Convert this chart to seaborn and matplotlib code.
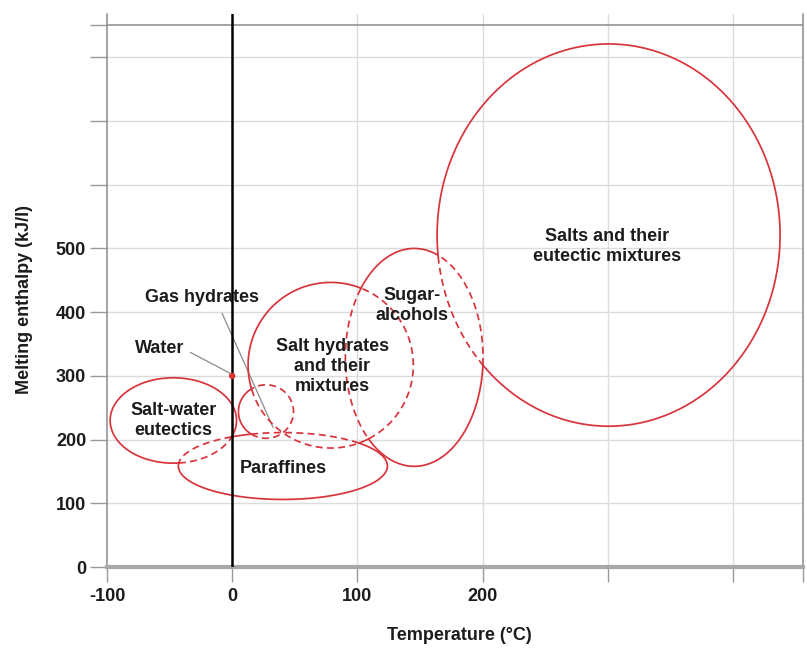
import numpy as np
import pandas as pd
import matplotlib
matplotlib.use("Agg")
import matplotlib.pyplot as plt
import seaborn as sns

# Material classes: typical melting temperature / melting enthalpy ranges (ellipses)
classes = ["Salt-water eutectics", "Gas hydrates", "Paraffines",
           "Salt hydrates", "Sugar-alcohols", "Salts"]
temp_center = [-47, 27, 40.5, 78.7, 145.4, 300.7]
temp_width = [101, 44, 167, 132, 110, 274]
enth_center = [230, 244, 158.5, 316.7, 329, 521]
enth_height = [134, 84, 105, 260, 342, 600]

# Region labels
label_texts = ["Salts and their\neutectic mixtures", "Sugar-\nalcohols",
               "Salt hydrates\nand their\nmixtures", "Gas hydrates", "Water",
               "Salt-water\neutectics", "Paraffines"]
label_x = [299.5, 143.8, 80, -24, -58, -47, 40.7]
label_y = [503, 411, 315, 423, 343, 230, 155]

# Water as a single point with a leader line
water_temp = [0]
water_enth = [300]
water_leader_x = [-33.5, -1.6]
water_leader_y = [337, 304]
gas_leader_x = [-8, 32.7]
gas_leader_y = [398, 219]

x_ticks = [-100, 0, 100, 200, 300, 400, 456]
x_tick_labels = ["-100", "0", "100", "200", "", "", ""]
y_ticks = [0, 100, 200, 300, 400, 500, 600, 700, 800, 850]
y_tick_labels = ["0", "100", "200", "300", "400", "500", "", "", "", ""]

RED = "#d8343c"
TEXT = "#1c1c1c"

sns.set_style("white")
plt.rcParams["font.family"] = ["Liberation Sans", "DejaVu Sans"]
plt.rcParams["font.weight"] = "bold"

fig = plt.figure(figsize=(8.07, 6.51), dpi=100)
ax = fig.add_axes([107 / 807, 1 - 567 / 651, 696 / 807, 553 / 651])
ax.set_xlim(-100, 456)
ax.set_ylim(0, 868)

# grid
for gx in [100, 200, 300, 400]:
    ax.axvline(gx, color="#dcdcdc", lw=1.0, zorder=0)
for gy in [100, 200, 300, 400, 500, 600, 700, 800]:
    ax.axhline(gy, color="#dcdcdc", lw=1.0, zorder=0)
ax.axhline(850, color="#8a8a8a", lw=1.1, zorder=1)
ax.axvline(0, color="black", lw=1.8, zorder=4)

# ellipse outlines: solid where outside every other region, dashed where overlapped
n = 720
t = np.linspace(0, 2 * np.pi, n, endpoint=False)
df = pd.DataFrame({"name": classes, "cx": temp_center, "cy": enth_center,
                   "w": temp_width, "h": enth_height})


def inside_other(i, xs, ys):
    flag = np.zeros_like(xs, dtype=bool)
    for j, r in df.iterrows():
        if j == i:
            continue
        flag |= ((xs - r.cx) / (r.w / 2)) ** 2 + ((ys - r.cy) / (r.h / 2)) ** 2 < 1
    return flag


for i, r in df.iterrows():
    xs = r.cx + r.w / 2 * np.cos(t)
    ys = r.cy + r.h / 2 * np.sin(t)
    flag = inside_other(i, xs, ys)
    if flag.all() or (~flag).all():
        runs = [(np.append(xs, xs[0]), np.append(ys, ys[0]), flag[0])]
    else:
        k = int(np.argmax(flag != np.roll(flag, 1)))
        xs, ys, flag = np.roll(xs, -k), np.roll(ys, -k), np.roll(flag, -k)
        cuts = np.flatnonzero(np.diff(flag.astype(int))) + 1
        starts = np.concatenate([[0], cuts])
        ends = np.concatenate([cuts, [n]])
        runs = []
        for s, e in zip(starts, ends):
            idx = list(range(s, e)) + [e % n]
            runs.append((xs[idx], ys[idx], flag[s]))
    for sx, sy, dashed in runs:
        sns.lineplot(x=sx, y=sy, sort=False, estimator=None, ax=ax, color=RED,
                     lw=1.25, zorder=3,
                     linestyle=(0, (4, 2.5)) if dashed else "-")

# leader lines and the water point
ax.plot(water_leader_x, water_leader_y, color="#8c8c8c", lw=0.9, zorder=2)
ax.plot(gas_leader_x, gas_leader_y, color="#8c8c8c", lw=0.9, zorder=2)
sns.scatterplot(x=water_temp, y=water_enth, color=RED, s=22, edgecolor="none",
                ax=ax, zorder=5)

for txt, lx, ly in zip(label_texts, label_x, label_y):
    ax.text(lx, ly, txt, ha="center", va="center", fontsize=13,
            fontweight="bold", color=TEXT, linespacing=1.25, zorder=6)

# axes styling
ax.set_xticks(x_ticks)
ax.set_xticklabels(x_tick_labels)
ax.set_yticks(y_ticks)
ax.set_yticklabels(y_tick_labels)
ax.tick_params(axis="x", direction="out", length=11, width=1.0, color="#9a9a9a",
               pad=4, labelsize=13, labelcolor=TEXT, bottom=True)
ax.tick_params(axis="y", direction="out", length=12, width=1.0, color="#9a9a9a",
               pad=3, labelsize=13, labelcolor=TEXT, left=True)
for lab in ax.get_xticklabels() + ax.get_yticklabels():
    lab.set_fontweight("bold")

ax.spines["top"].set_visible(False)
ax.spines["left"].set_color("#8a8a8a")
ax.spines["left"].set_linewidth(1.1)
ax.spines["right"].set_color("#8a8a8a")
ax.spines["right"].set_linewidth(1.1)
ax.spines["bottom"].set_color("#a8a8a8")
ax.spines["bottom"].set_linewidth(3.0)

ax.set_xlabel("Temperature (°C)", fontsize=13, fontweight="bold", color=TEXT)
ax.set_ylabel("Melting enthalpy (kJ/l)", fontsize=13, fontweight="bold", color=TEXT)
ax.xaxis.set_label_coords(0.507, -0.108)
ax.yaxis.set_label_coords(-0.106, 0.484)

fig.savefig("out.png", dpi=100, facecolor="white")
